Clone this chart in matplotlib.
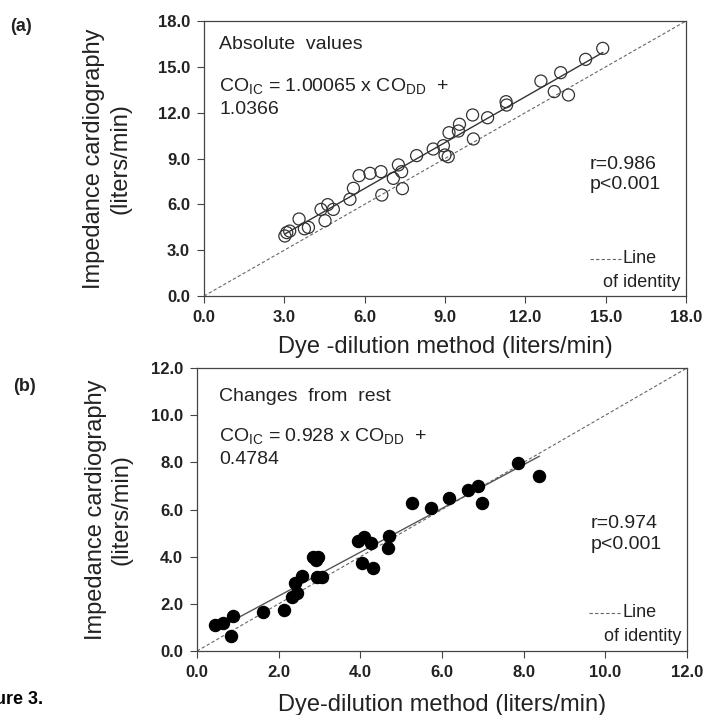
import numpy as np
import matplotlib.pyplot as plt
from matplotlib.lines import Line2D

plt.rcParams['font.family'] = ['Liberation Sans', 'DejaVu Sans']
plt.rcParams['mathtext.fontset'] = 'custom'
plt.rcParams['mathtext.rm'] = 'Liberation Sans'

# panel (a): absolute values (liters/min)
abs_dd = [3.02, 3.09, 3.2, 3.55, 3.9, 3.75, 4.37, 4.62, 4.52, 4.83, 5.45, 5.58,
          5.79, 6.20, 6.61, 6.64, 7.07, 7.26, 7.38, 7.41, 7.94, 8.56, 8.94, 9.00,
          9.15, 9.54, 9.50, 9.12, 10.03, 10.06, 10.59, 11.28, 11.30, 12.58, 13.08,
          13.32, 13.61, 14.25, 14.89]
abs_ic = [3.93, 4.15, 4.25, 5.04, 4.49, 4.40, 5.67, 5.98, 4.93, 5.67, 6.33, 7.05,
          7.88, 8.03, 8.14, 6.61, 7.70, 8.58, 8.14, 7.03, 9.19, 9.62, 9.84, 9.23,
          10.69, 11.24, 10.80, 9.12, 11.85, 10.28, 11.67, 12.72, 12.50, 14.07, 13.38,
          14.62, 13.16, 15.49, 16.21]
abs_slope, abs_icpt = 1.00065, 1.0366

# panel (b): changes from rest (liters/min)
chg_dd = [0.44, 0.64, 0.89, 0.83, 1.61, 2.14, 2.32, 2.46, 2.40, 2.56, 2.85, 2.97,
          2.91, 2.93, 3.07, 3.93, 4.10, 4.26, 4.05, 4.30, 4.69, 4.67, 5.27, 5.72,
          6.18, 6.63, 6.89, 6.99, 7.87, 8.38]
chg_ic = [1.10, 1.20, 1.48, 0.64, 1.64, 1.74, 2.28, 2.47, 2.87, 3.19, 3.97, 3.97,
          3.86, 3.15, 3.15, 4.68, 4.82, 4.59, 3.75, 3.51, 4.88, 4.35, 6.26, 6.05,
          6.50, 6.83, 7.00, 6.26, 7.99, 7.43]
chg_slope, chg_icpt = 0.928, 0.4784

txt = '#222222'
fig = plt.figure(figsize=(7.17, 7.15), dpi=100)
ax1 = fig.add_axes([0.2845, 0.586, 0.6723, 0.3846])
ax2 = fig.add_axes([0.2748, 0.0895, 0.6834, 0.3958])


def style(ax, lim, step, ypad):
    ax.set_xlim(0, lim)
    ax.set_ylim(0, lim)
    ticks = np.arange(0, lim + step / 2, step)
    ax.set_xticks(ticks)
    ax.set_yticks(ticks)
    ax.set_xticklabels(['%.1f' % t for t in ticks])
    ax.set_yticklabels(['%.1f' % t for t in ticks])
    ax.tick_params(direction='out', length=5, width=0.8, color='#444444',
                   labelsize=12, labelcolor=txt, pad=5)
    for lab in ax.get_xticklabels() + ax.get_yticklabels():
        lab.set_fontweight('bold')
    for s in ax.spines.values():
        s.set_color('#444444')
        s.set_linewidth(0.9)
    ax.set_ylabel('Impedance cardiography\n(liters/min)', fontsize=17,
                  color=txt, labelpad=ypad, linespacing=1.25)
    # line of identity
    ax.plot([0, lim], [0, lim], color='#666666', lw=0.8, ls=(0, (3, 2)))
    # legend sample
    ax.add_line(Line2D([0.80, 0.865], [0.135, 0.135], transform=ax.transAxes,
                       color='#666666', lw=0.8, ls=(0, (3, 2))))
    ax.text(0.869, 0.135, 'Line', transform=ax.transAxes, fontsize=13,
            va='center', color=txt)
    ax.text(0.988, 0.05, 'of identity', transform=ax.transAxes, fontsize=13,
            va='center', ha='right', color=txt)


style(ax1, 18, 3, 19)
ax1.scatter(abs_dd, abs_ic, s=75, facecolors='none', edgecolors='#333333',
            linewidths=0.9, zorder=3)
xr = np.array([min(abs_dd), max(abs_dd)])
ax1.plot(xr, abs_slope * xr + abs_icpt, color='#333333', lw=1.0)
ax1.set_xlabel('Dye -dilution method (liters/min)', fontsize=17, color=txt,
               labelpad=8)
ax1.text(0.032, 0.913, 'Absolute  values', transform=ax1.transAxes,
         fontsize=14, va='center', color=txt)
ax1.text(0.032, 0.76, r'CO$_{\mathrm{IC}}$ = 1.00065 x CO$_{\mathrm{DD}}$  +',
         transform=ax1.transAxes, fontsize=14, va='center', color=txt)
ax1.text(0.032, 0.68, '1.0366', transform=ax1.transAxes, fontsize=14,
         va='center', color=txt)
ax1.text(0.8, 0.48, 'r=0.986', transform=ax1.transAxes, fontsize=14,
         va='center', color=txt)
ax1.text(0.8, 0.404, 'p<0.001', transform=ax1.transAxes, fontsize=14,
         va='center', color=txt)

style(ax2, 12, 2, 13)
ax2.scatter(chg_dd, chg_ic, s=75, color='black', zorder=3)
xr = np.array([min(chg_dd), max(chg_dd)])
ax2.plot(xr, chg_slope * xr + chg_icpt, color='#555555', lw=1.0)
ax2.set_xlabel('Dye-dilution method (liters/min)', fontsize=17, color=txt,
               labelpad=10)
ax2.text(0.045, 0.898, 'Changes  from  rest', transform=ax2.transAxes,
         fontsize=14, va='center', color=txt)
ax2.text(0.045, 0.756, r'CO$_{\mathrm{IC}}$ = 0.928 x CO$_{\mathrm{DD}}$  +',
         transform=ax2.transAxes, fontsize=14, va='center', color=txt)
ax2.text(0.045, 0.678, '0.4784', transform=ax2.transAxes, fontsize=14,
         va='center', color=txt)
ax2.text(0.804, 0.452, 'r=0.974', transform=ax2.transAxes, fontsize=14,
         va='center', color=txt)
ax2.text(0.804, 0.378, 'p<0.001', transform=ax2.transAxes, fontsize=14,
         va='center', color=txt)

fig.text(0.014, 0.963, '(a)', fontsize=13, fontweight='bold', color=txt,
         va='center')
fig.text(0.018, 0.459, '(b)', fontsize=13, fontweight='bold', color=txt,
         va='center')
fig.text(0.06, 0.022, 'Figure 3.', fontsize=13, fontweight='bold',
         color='black', ha='right', va='center')

fig.savefig('out.png', dpi=100)
